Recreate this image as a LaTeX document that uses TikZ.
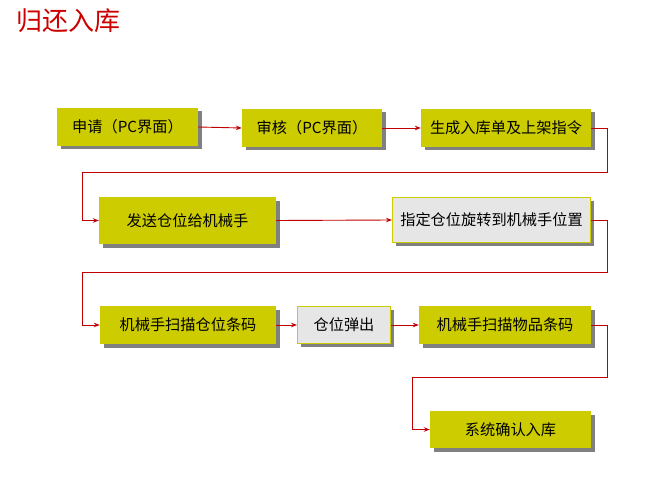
\documentclass[tikz,border=0pt]{standalone}
\usepackage{fontspec}
\setmainfont{Noto Sans CJK SC}
\usetikzlibrary{arrows.meta,shadows}
\definecolor{boxyellow}{RGB}{204,204,0}
\definecolor{boxgray}{RGB}{230,230,230}
\definecolor{linered}{RGB}{192,0,0}
\definecolor{titlered}{RGB}{204,0,0}
\definecolor{shadowgray}{RGB}{128,128,128}
\tikzset{
  base/.style={rectangle, inner sep=0pt, font=\fontsize{15.2}{17}\selectfont,
    drop shadow={shadow xshift=3.5pt, shadow yshift=-3.5pt, fill=shadowgray, opacity=1}},
  ybox/.style={base, fill=boxyellow},
  gbox/.style={base, fill=boxgray, draw=boxyellow, line width=1pt},
  conn/.style={draw=linered, line width=0.9pt, -{Stealth[length=6pt,width=4.5pt]}},
}
\begin{document}
\begin{tikzpicture}[x=1pt,y=-1pt]
\useasboundingbox (0,0) rectangle (650,481);
\node[text=titlered, font=\fontsize{26}{28}\selectfont, anchor=west] (title) at (13,21) {归还入库};

\node[ybox, minimum width=141pt, minimum height=38pt] (b1) at (127.5,127) {申请（PC界面）};
\node[ybox, minimum width=140pt, minimum height=38pt] (b2) at (312,128) {审核（PC界面）};
\node[ybox, minimum width=170pt, minimum height=38pt] (b3) at (506,128) {生成入库单及上架指令};

\node[ybox, minimum width=177pt, minimum height=47pt] (b4) at (187.5,220.5) {发送仓位给机械手};
\node[gbox, minimum width=198pt, minimum height=45pt] (b5) at (491.5,220) {指定仓位旋转到机械手位置};

\node[ybox, minimum width=176pt, minimum height=38pt] (b6) at (188,325) {机械手扫描仓位条码};
\node[gbox, minimum width=93pt, minimum height=37pt] (b7) at (344,325) {仓位弹出};
\node[ybox, minimum width=172pt, minimum height=38pt] (b8) at (505,325) {机械手扫描物品条码};

\node[ybox, minimum width=161pt, minimum height=37pt] (b9) at (510.5,429.5) {系统确认入库};

\coordinate (c1) at (607,172);
\coordinate (c2) at (82,172);
\coordinate (c3) at (607,272);
\coordinate (c4) at (82,272);
\coordinate (c5) at (607,377);
\coordinate (c6) at (412,377);

\draw[conn] (b1.east) -- (b2.west);
\draw[conn] (b2.east) -- (b3.west);
\draw[conn] (b3.east) -| (c1) -- (c2) |- (b4.west);
\draw[conn] (b4.east) -- (b5.west);
\draw[conn] (b5.east) -| (c3) -- (c4) |- (b6.west);
\draw[conn] (b6.east) -- (b7.west);
\draw[conn] (b7.east) -- (b8.west);
\draw[conn] (b8.east) -| (c5) -- (c6) |- (b9.west);
\end{tikzpicture}
\end{document}
